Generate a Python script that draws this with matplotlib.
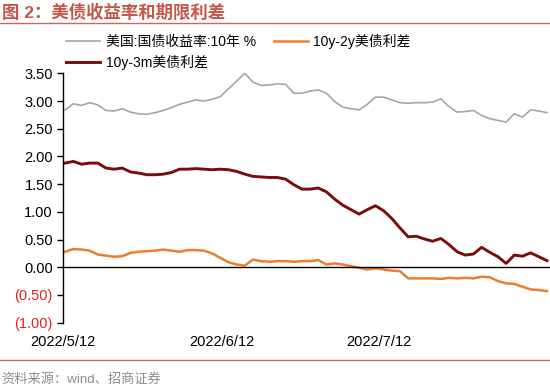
import numpy as np
import matplotlib
matplotlib.use("Agg")
import matplotlib.pyplot as plt
from matplotlib.lines import Line2D

plt.rcParams['font.family'] = ['Liberation Sans', 'Noto Sans CJK SC', 'DejaVu Sans']

# daily points (60 trading days)
ust10y = [2.84, 2.95, 2.92, 2.97, 2.93, 2.83, 2.82, 2.86, 2.80, 2.77,
          2.76, 2.79, 2.83, 2.88, 2.94, 2.98, 3.02, 3.00, 3.03, 3.08,
          3.22, 3.36, 3.50, 3.34, 3.28, 3.29, 3.31, 3.30, 3.14, 3.14,
          3.18, 3.20, 3.14, 2.99, 2.89, 2.86, 2.84, 2.94, 3.07, 3.07,
          3.02, 2.97, 2.96, 2.97, 2.97, 2.98, 3.04, 2.90, 2.80, 2.81,
          2.83, 2.74, 2.68, 2.65, 2.62, 2.77, 2.71, 2.84, 2.82, 2.79]
spread_10y3m = [1.88, 1.91, 1.86, 1.88, 1.88, 1.79, 1.77, 1.79, 1.72, 1.70,
                1.67, 1.67, 1.68, 1.71, 1.77, 1.77, 1.78, 1.77, 1.76, 1.77,
                1.76, 1.73, 1.68, 1.64, 1.63, 1.62, 1.62, 1.59, 1.49, 1.41,
                1.41, 1.43, 1.36, 1.23, 1.12, 1.04, 0.96, 1.04, 1.11, 1.02,
                0.88, 0.71, 0.55, 0.56, 0.51, 0.47, 0.52, 0.41, 0.28, 0.22,
                0.24, 0.36, 0.27, 0.19, 0.07, 0.22, 0.20, 0.26, 0.19, 0.12]
spread_10y2y = [0.28, 0.33, 0.32, 0.30, 0.23, 0.21, 0.19, 0.20, 0.26, 0.28,
                0.29, 0.30, 0.32, 0.30, 0.28, 0.31, 0.31, 0.30, 0.25, 0.17,
                0.09, 0.05, 0.03, 0.14, 0.11, 0.10, 0.11, 0.11, 0.10, 0.11,
                0.11, 0.13, 0.05, 0.07, 0.05, 0.02, -0.01, -0.04, -0.02, -0.04,
                -0.06, -0.07, -0.20, -0.20, -0.20, -0.20, -0.21, -0.19, -0.20, -0.19,
                -0.20, -0.17, -0.18, -0.25, -0.29, -0.30, -0.35, -0.40, -0.41, -0.43]

date_labels = ['2022/5/12', '2022/6/12', '2022/7/12']
date_pos = [-0.3, 19.2, 38.4]
y_ticks = [-1.0, -0.5, 0.0, 0.5, 1.0, 1.5, 2.0, 2.5, 3.0, 3.5]

names = ['美国:国债收益率:10年 %', '10y-3m美债利差', '10y-2y美债利差']
colors = ['#A6A6A6', '#7B0C0C', '#ED7D31']
title_color = '#C4574A'

fig = plt.figure(figsize=(5.5, 3.88), dpi=100)
ax = fig.add_axes([62.7 / 550, 1 - 322.7 / 388, 1 - 62.7 / 550, (322.7 - 73.3) / 388])

x = np.arange(len(ust10y))
ax.plot(x, ust10y, color=colors[0], lw=1.2)
ax.plot(x, spread_10y3m, color=colors[1], lw=2.1)
ax.plot(x, spread_10y2y, color=colors[2], lw=1.8)
ax.axhline(0, color='black', lw=1)

ax.set_xlim(-0.28, len(x) - 1 + 0.37)
ax.set_ylim(-1.0, 3.5)
ax.set_yticks(y_ticks)
ax.set_yticklabels(['(%.2f)' % abs(v) if v < 0 else '%.2f' % v for v in y_ticks])
for lab, v in zip(ax.get_yticklabels(), y_ticks):
    lab.set_color('#E8201E' if v < 0 else 'black')
ax.set_xticks(date_pos)
ax.set_xticklabels(date_labels)
ax.tick_params(axis='y', length=4, width=1, pad=3, labelsize=10.5)
ax.tick_params(axis='x', length=0, pad=9, labelsize=10.5)
for s in ['top', 'right', 'bottom']:
    ax.spines[s].set_visible(False)
ax.spines['left'].set_linewidth(1)

handles = [Line2D([], [], color=c, lw=w) for c, w in zip(colors, [1.2, 2.1, 1.8])]
fig.legend(handles, names, ncol=2, frameon=False, fontsize=10,
           loc='upper left', bbox_to_anchor=(66 / 550, 1 - 34 / 388),
           handlelength=2.45, handletextpad=0.4, columnspacing=1.3,
           labelspacing=0.42, borderpad=0, borderaxespad=0)

fig.text(0.003, 1 - 12 / 388, '图 2：美债收益率和期限利差', color=title_color,
         fontsize=12.5, fontweight='bold', va='center', ha='left')
fig.add_artist(Line2D([0, 1], [1 - 22.5 / 388, 1 - 22.5 / 388], color='#C9675C', lw=1))
fig.add_artist(Line2D([0, 1], [1 - 359.5 / 388, 1 - 359.5 / 388], color='#C9675C', lw=1))
fig.text(0.003, 1 - 380 / 388, '资料来源：wind、招商证券', color='#8C8C8C',
         fontsize=9.5, va='center', ha='left')

fig.savefig('out.png', dpi=100)
